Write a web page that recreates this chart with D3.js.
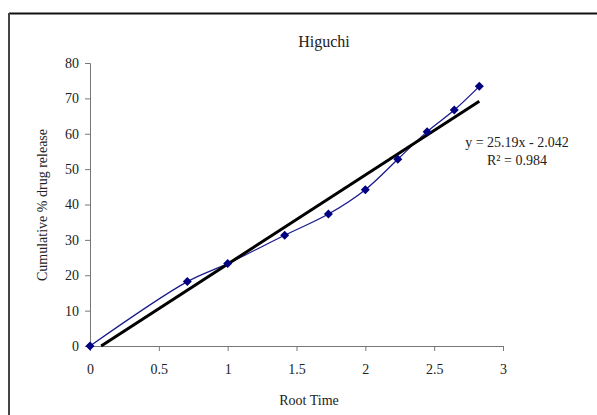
<!DOCTYPE html>
<html><head><meta charset="utf-8">
<script src="https://cdn.jsdelivr.net/npm/d3@7"></script>
<style>body{margin:0;background:#fff}svg{display:block}text{font-family:"Liberation Serif","Times New Roman",serif;fill:#222}</style>
</head><body>
<svg id="c" width="597" height="415"></svg>
<script>
const rootTime = [0, 0.707, 1, 1.414, 1.732, 2, 2.236, 2.449, 2.646, 2.828];
const release = [0, 18.2, 23.3, 31.3, 37.3, 44.2, 52.8, 60.6, 66.7, 73.4];
const xTicks = [0, 0.5, 1, 1.5, 2, 2.5, 3];
const yTicks = [0, 10, 20, 30, 40, 50, 60, 70, 80];
const slope = 25.19, intercept = -2.042, r2 = 0.984;

const svg = d3.select("#c");
// frame
svg.append("line").attr("x1",9).attr("y1",13.5).attr("x2",597).attr("y2",13.5).attr("stroke","#111").attr("stroke-width",2);
svg.append("line").attr("x1",9).attr("y1",13).attr("x2",9).attr("y2",415).attr("stroke","#444").attr("stroke-width",2);

const x = d3.scaleLinear().domain([0,3]).range([90,503]);
const y = d3.scaleLinear().domain([0,80]).range([346,63]);

const yAxis = svg.append("g").attr("transform","translate(90,0)").call(d3.axisLeft(y).tickValues(yTicks).tickSize(5).tickPadding(6).tickFormat(d3.format("d")));
const xAxis = svg.append("g").attr("transform","translate(0,346)").call(d3.axisBottom(x).tickValues(xTicks).tickSize(5).tickPadding(13).tickFormat(d=>String(d)));
[yAxis,xAxis].forEach(a=>{
  a.select(".domain").attr("stroke","#777");
  a.selectAll(".tick line").attr("stroke","#777");
  a.selectAll("text").attr("font-size",14).attr("fill","#222").attr("font-family","Liberation Serif");
});

// data line
const pts = rootTime.map((t,i)=>[t,release[i]]);
svg.append("path").datum(pts)
  .attr("d", d3.line().x(d=>x(d[0])).y(d=>y(d[1])).curve(d3.curveCatmullRom.alpha(0.5)))
  .attr("fill","none").attr("stroke","#1a1a8c").attr("stroke-width",1.3);

// trend line
const x0 = -intercept/slope, x1 = rootTime[rootTime.length-1];
svg.append("line")
  .attr("x1",x(x0)).attr("y1",y(slope*x0+intercept))
  .attr("x2",x(x1)).attr("y2",y(slope*x1+intercept))
  .attr("stroke","#000").attr("stroke-width",3);

// markers (square diamonds)
svg.selectAll(".m").data(pts).enter().append("path")
  .attr("transform",d=>`translate(${x(d[0])},${y(d[1])})`)
  .attr("d","M0,-4.5L4.5,0L0,4.5L-4.5,0Z")
  .attr("fill","#000080");

// title & labels
svg.append("text").attr("x",324).attr("y",47).attr("text-anchor","middle").attr("font-size",16).text("Higuchi");
svg.append("text").attr("x",309).attr("y",405).attr("text-anchor","middle").attr("font-size",14).text("Root Time");
svg.append("text").attr("transform","translate(47,205) rotate(-90)").attr("text-anchor","middle").attr("font-size",14).text("Cumulative % drug release");
svg.append("text").attr("x",517).attr("y",147).attr("text-anchor","middle").attr("font-size",14).text(`y = ${slope}x - ${Math.abs(intercept)}`);
svg.append("text").attr("x",517).attr("y",165).attr("text-anchor","middle").attr("font-size",14).text(`R² = ${r2}`);
</script>
</body></html>
